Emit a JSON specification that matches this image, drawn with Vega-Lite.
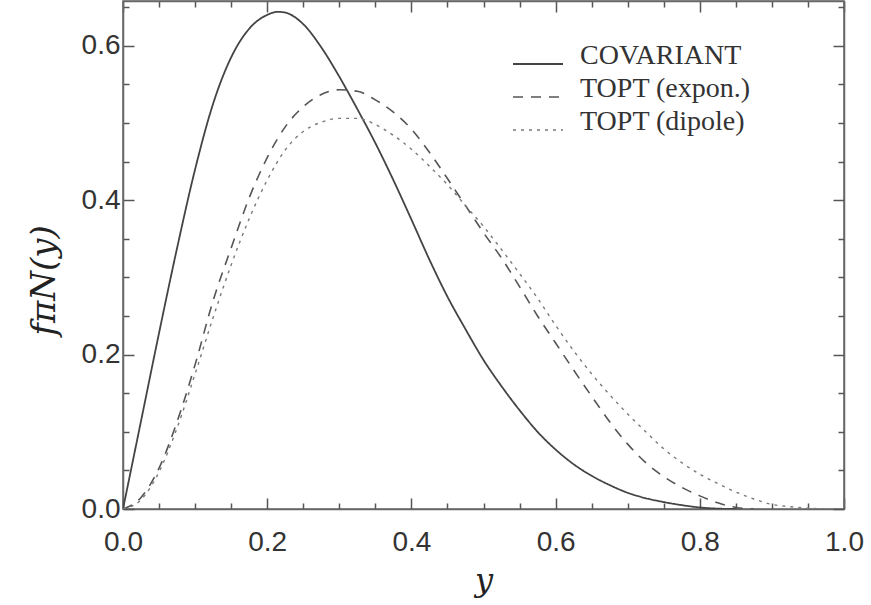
{
  "$schema": "https://vega.github.io/schema/vega-lite/v6.json",
  "width": 721,
  "height": 508,
  "autosize": {"type": "none"},
  "padding": {"left": 123, "top": 1, "right": 27, "bottom": 96},
  "background": "white",
  "config": {
    "view": {"stroke": "#666", "strokeWidth": 1.5},
    "axis": {
      "domainColor": "#666", "domainWidth": 1.5,
      "ticks": true,
      "tickColor": "#555", "tickWidth": 1.5,
      "labelFont": "Liberation Sans", "labelFontSize": 28, "labelColor": "#333",
      "labelOverlap": false, "labelFlush": false, "grid": false
    }
  },
  "data": {"values": [
    {"x": 0, "f": 0, "model": "COVARIANT"},
    {"x": 0.025, "f": 0.114, "model": "COVARIANT"},
    {"x": 0.05, "f": 0.228, "model": "COVARIANT"},
    {"x": 0.075, "f": 0.338, "model": "COVARIANT"},
    {"x": 0.1, "f": 0.44, "model": "COVARIANT"},
    {"x": 0.125, "f": 0.525, "model": "COVARIANT"},
    {"x": 0.15, "f": 0.585, "model": "COVARIANT"},
    {"x": 0.175, "f": 0.622, "model": "COVARIANT"},
    {"x": 0.2, "f": 0.64, "model": "COVARIANT"},
    {"x": 0.215, "f": 0.644, "model": "COVARIANT"},
    {"x": 0.225, "f": 0.643, "model": "COVARIANT"},
    {"x": 0.25, "f": 0.628, "model": "COVARIANT"},
    {"x": 0.275, "f": 0.598, "model": "COVARIANT"},
    {"x": 0.3, "f": 0.56, "model": "COVARIANT"},
    {"x": 0.325, "f": 0.518, "model": "COVARIANT"},
    {"x": 0.35, "f": 0.474, "model": "COVARIANT"},
    {"x": 0.375, "f": 0.426, "model": "COVARIANT"},
    {"x": 0.4, "f": 0.375, "model": "COVARIANT"},
    {"x": 0.425, "f": 0.323, "model": "COVARIANT"},
    {"x": 0.45, "f": 0.275, "model": "COVARIANT"},
    {"x": 0.475, "f": 0.233, "model": "COVARIANT"},
    {"x": 0.5, "f": 0.193, "model": "COVARIANT"},
    {"x": 0.525, "f": 0.159, "model": "COVARIANT"},
    {"x": 0.55, "f": 0.128, "model": "COVARIANT"},
    {"x": 0.575, "f": 0.1, "model": "COVARIANT"},
    {"x": 0.6, "f": 0.077, "model": "COVARIANT"},
    {"x": 0.625, "f": 0.058, "model": "COVARIANT"},
    {"x": 0.65, "f": 0.043, "model": "COVARIANT"},
    {"x": 0.675, "f": 0.031, "model": "COVARIANT"},
    {"x": 0.7, "f": 0.021, "model": "COVARIANT"},
    {"x": 0.725, "f": 0.014, "model": "COVARIANT"},
    {"x": 0.75, "f": 0.009, "model": "COVARIANT"},
    {"x": 0.775, "f": 0.005, "model": "COVARIANT"},
    {"x": 0.8, "f": 0.002, "model": "COVARIANT"},
    {"x": 0.825, "f": 0.0005, "model": "COVARIANT"},
    {"x": 0.85, "f": 0.0, "model": "COVARIANT"},
    {"x": 0, "f": 0, "model": "TOPT (expon.)"},
    {"x": 0.025, "f": 0.015, "model": "TOPT (expon.)"},
    {"x": 0.05, "f": 0.053, "model": "TOPT (expon.)"},
    {"x": 0.075, "f": 0.113, "model": "TOPT (expon.)"},
    {"x": 0.1, "f": 0.187, "model": "TOPT (expon.)"},
    {"x": 0.125, "f": 0.27, "model": "TOPT (expon.)"},
    {"x": 0.15, "f": 0.338, "model": "TOPT (expon.)"},
    {"x": 0.175, "f": 0.403, "model": "TOPT (expon.)"},
    {"x": 0.2, "f": 0.455, "model": "TOPT (expon.)"},
    {"x": 0.225, "f": 0.495, "model": "TOPT (expon.)"},
    {"x": 0.25, "f": 0.521, "model": "TOPT (expon.)"},
    {"x": 0.275, "f": 0.537, "model": "TOPT (expon.)"},
    {"x": 0.3, "f": 0.543, "model": "TOPT (expon.)"},
    {"x": 0.325, "f": 0.541, "model": "TOPT (expon.)"},
    {"x": 0.35, "f": 0.53, "model": "TOPT (expon.)"},
    {"x": 0.375, "f": 0.514, "model": "TOPT (expon.)"},
    {"x": 0.4, "f": 0.492, "model": "TOPT (expon.)"},
    {"x": 0.425, "f": 0.462, "model": "TOPT (expon.)"},
    {"x": 0.45, "f": 0.428, "model": "TOPT (expon.)"},
    {"x": 0.475, "f": 0.393, "model": "TOPT (expon.)"},
    {"x": 0.5, "f": 0.358, "model": "TOPT (expon.)"},
    {"x": 0.525, "f": 0.325, "model": "TOPT (expon.)"},
    {"x": 0.55, "f": 0.288, "model": "TOPT (expon.)"},
    {"x": 0.575, "f": 0.25, "model": "TOPT (expon.)"},
    {"x": 0.6, "f": 0.215, "model": "TOPT (expon.)"},
    {"x": 0.625, "f": 0.18, "model": "TOPT (expon.)"},
    {"x": 0.65, "f": 0.146, "model": "TOPT (expon.)"},
    {"x": 0.675, "f": 0.113, "model": "TOPT (expon.)"},
    {"x": 0.7, "f": 0.084, "model": "TOPT (expon.)"},
    {"x": 0.725, "f": 0.06, "model": "TOPT (expon.)"},
    {"x": 0.75, "f": 0.042, "model": "TOPT (expon.)"},
    {"x": 0.775, "f": 0.028, "model": "TOPT (expon.)"},
    {"x": 0.8, "f": 0.017, "model": "TOPT (expon.)"},
    {"x": 0.825, "f": 0.008, "model": "TOPT (expon.)"},
    {"x": 0.85, "f": 0.002, "model": "TOPT (expon.)"},
    {"x": 0.875, "f": 0.0, "model": "TOPT (expon.)"},
    {"x": 0, "f": 0, "model": "TOPT (dipole)"},
    {"x": 0.025, "f": 0.012, "model": "TOPT (dipole)"},
    {"x": 0.05, "f": 0.048, "model": "TOPT (dipole)"},
    {"x": 0.075, "f": 0.105, "model": "TOPT (dipole)"},
    {"x": 0.1, "f": 0.175, "model": "TOPT (dipole)"},
    {"x": 0.125, "f": 0.248, "model": "TOPT (dipole)"},
    {"x": 0.15, "f": 0.316, "model": "TOPT (dipole)"},
    {"x": 0.175, "f": 0.376, "model": "TOPT (dipole)"},
    {"x": 0.2, "f": 0.426, "model": "TOPT (dipole)"},
    {"x": 0.225, "f": 0.465, "model": "TOPT (dipole)"},
    {"x": 0.25, "f": 0.489, "model": "TOPT (dipole)"},
    {"x": 0.275, "f": 0.501, "model": "TOPT (dipole)"},
    {"x": 0.3, "f": 0.506, "model": "TOPT (dipole)"},
    {"x": 0.325, "f": 0.506, "model": "TOPT (dipole)"},
    {"x": 0.35, "f": 0.498, "model": "TOPT (dipole)"},
    {"x": 0.375, "f": 0.484, "model": "TOPT (dipole)"},
    {"x": 0.4, "f": 0.466, "model": "TOPT (dipole)"},
    {"x": 0.425, "f": 0.444, "model": "TOPT (dipole)"},
    {"x": 0.45, "f": 0.42, "model": "TOPT (dipole)"},
    {"x": 0.475, "f": 0.393, "model": "TOPT (dipole)"},
    {"x": 0.5, "f": 0.366, "model": "TOPT (dipole)"},
    {"x": 0.525, "f": 0.336, "model": "TOPT (dipole)"},
    {"x": 0.55, "f": 0.305, "model": "TOPT (dipole)"},
    {"x": 0.575, "f": 0.273, "model": "TOPT (dipole)"},
    {"x": 0.6, "f": 0.238, "model": "TOPT (dipole)"},
    {"x": 0.625, "f": 0.205, "model": "TOPT (dipole)"},
    {"x": 0.65, "f": 0.175, "model": "TOPT (dipole)"},
    {"x": 0.675, "f": 0.148, "model": "TOPT (dipole)"},
    {"x": 0.7, "f": 0.123, "model": "TOPT (dipole)"},
    {"x": 0.725, "f": 0.1, "model": "TOPT (dipole)"},
    {"x": 0.75, "f": 0.078, "model": "TOPT (dipole)"},
    {"x": 0.775, "f": 0.06, "model": "TOPT (dipole)"},
    {"x": 0.8, "f": 0.045, "model": "TOPT (dipole)"},
    {"x": 0.825, "f": 0.033, "model": "TOPT (dipole)"},
    {"x": 0.85, "f": 0.022, "model": "TOPT (dipole)"},
    {"x": 0.875, "f": 0.013, "model": "TOPT (dipole)"},
    {"x": 0.9, "f": 0.006, "model": "TOPT (dipole)"},
    {"x": 0.925, "f": 0.003, "model": "TOPT (dipole)"},
    {"x": 0.95, "f": 0.001, "model": "TOPT (dipole)"},
    {"x": 0.975, "f": 0.0, "model": "TOPT (dipole)"}
  ]},
  "layer": [
    {
      "mark": {"type": "line", "interpolate": "monotone", "clip": true},
      "encoding": {
        "x": {
          "field": "x", "type": "quantitative",
          "scale": {"domain": [0, 1], "nice": false, "zero": false},
          "axis": {
            "orient": "bottom",
            "values": [0, 0.05, 0.1, 0.15, 0.2, 0.25, 0.3, 0.35, 0.4, 0.45, 0.5, 0.55, 0.6, 0.65, 0.7, 0.75, 0.8, 0.85, 0.9, 0.95, 1.0],
            "labelExpr": "abs(datum.value*5 - round(datum.value*5)) < 0.001 ? format(datum.value, '.1f') : ''",
            "tickSize": {"condition": {"test": "abs(datum.value*5 - round(datum.value*5)) < 0.001", "value": -11}, "value": -6},
            "labelPadding": 30,
            "title": "y",
            "titleFont": "DejaVu Serif", "titleFontStyle": "italic", "titleFontWeight": "normal",
            "titleFontSize": 32, "titleColor": "#222", "titlePadding": 4
          }
        },
        "y": {
          "field": "f", "type": "quantitative",
          "scale": {"domain": [0, 0.658], "nice": false, "zero": false},
          "axis": {
            "orient": "left",
            "values": [0, 0.05, 0.1, 0.15, 0.2, 0.25, 0.3, 0.35, 0.4, 0.45, 0.5, 0.55, 0.6, 0.65],
            "labelExpr": "abs(datum.value*5 - round(datum.value*5)) < 0.001 ? format(datum.value, '.1f') : ''",
            "tickSize": {"condition": {"test": "abs(datum.value*5 - round(datum.value*5)) < 0.001", "value": -11}, "value": -6},
            "labelPadding": 14,
            "title": "fπN(y)",
            "titleFont": "DejaVu Serif", "titleFontStyle": "italic", "titleFontWeight": "normal",
            "titleFontSize": 34, "titleColor": "#222",
            "titleX": -62, "titleY": 279, "titleBaseline": "bottom", "titleAngle": -90
          }
        },
        "color": {
          "field": "model", "type": "nominal",
          "scale": {"domain": ["COVARIANT", "TOPT (expon.)", "TOPT (dipole)"], "range": ["#444444", "#555555", "#7a7a7a"]},
          "legend": {
            "orient": "none", "legendX": 389, "legendY": 37, "title": null, "padding": 0,
            "symbolType": "stroke", "symbolSize": 2500, "symbolStrokeWidth": 1.3,
            "labelFont": "Liberation Serif", "labelFontSize": 28, "labelColor": "#333",
            "labelBaseline": "alphabetic", "labelOffset": 16, "rowPadding": 1, "labelLimit": 400
          }
        },
        "strokeDash": {
          "field": "model", "type": "nominal",
          "scale": {"domain": ["COVARIANT", "TOPT (expon.)", "TOPT (dipole)"], "range": [[1, 0], [10, 8], [3, 5]]},
          "legend": null
        },
        "strokeWidth": {
          "field": "model", "type": "nominal",
          "scale": {"domain": ["COVARIANT", "TOPT (expon.)", "TOPT (dipole)"], "range": [1.8, 1.4, 3]},
          "legend": null
        }
      }
    },
    {
      "mark": {"type": "point", "opacity": 0},
      "encoding": {
        "x": {
          "field": "x", "type": "quantitative",
          "axis": {
            "orient": "top",
            "values": [0, 0.05, 0.1, 0.15, 0.2, 0.25, 0.3, 0.35, 0.4, 0.45, 0.5, 0.55, 0.6, 0.65, 0.7, 0.75, 0.8, 0.85, 0.9, 0.95, 1.0],
            "labels": false, "title": null,
            "tickSize": {"condition": {"test": "abs(datum.value*5 - round(datum.value*5)) < 0.001", "value": -11}, "value": -6}
          }
        },
        "y": {
          "field": "f", "type": "quantitative",
          "axis": {
            "orient": "right",
            "values": [0, 0.05, 0.1, 0.15, 0.2, 0.25, 0.3, 0.35, 0.4, 0.45, 0.5, 0.55, 0.6, 0.65],
            "labels": false, "title": null,
            "tickSize": {"condition": {"test": "abs(datum.value*5 - round(datum.value*5)) < 0.001", "value": -11}, "value": -6}
          }
        }
      }
    }
  ]
}
